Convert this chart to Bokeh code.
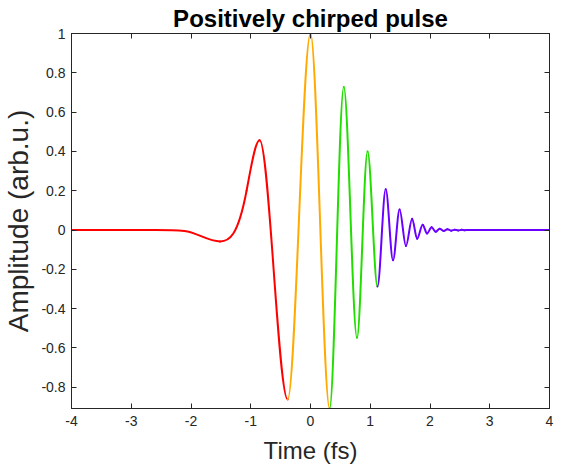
from bokeh.plotting import figure
from bokeh.models import Range1d, LinearAxis, FixedTicker, CustomLabelingPolicy
from bokeh.embed import file_html
from bokeh.resources import INLINE

# ---- data (extrema / anchor points of the pulse) ----
# each segment: time (fs), amplitude, local slope d(amp)/d(time)
red_t = [-4.0, -2.6, -2.11, -1.514, -1.07, -0.851, -0.382]
red_a = [0.0, 0.0, -0.005, -0.058, 0.20, 0.457, -0.862]
red_s = [0.0, 0.0, -0.03, 0.0, 1.6, 0.0, 0.0]

orange_t = [-0.382, 0.0, 0.32]
orange_a = [-0.862, 1.0, -0.908]
orange_s = [0.0, 0.0, 0.0]

green_t = [0.32, 0.557, 0.778, 0.955, 1.121]
green_a = [-0.908, 0.728, -0.548, 0.40, -0.287]
green_s = [0.0, 0.0, 0.0, 0.0, 0.0]

purple_t = [1.121, 1.259, 1.381, 1.491, 1.597, 1.701, 1.784, 1.878, 1.95, 2.027,
            2.094, 2.162, 2.228, 2.292, 2.354, 2.414, 2.472, 2.528, 2.583, 2.636,
            2.69, 4.0]
purple_a = [-0.287, 0.207, -0.154, 0.105, -0.081, 0.058, -0.044, 0.027, -0.018, 0.014,
            -0.009, 0.007, -0.005, 0.004, -0.003, 0.002, -0.002, 0.001, -0.001, 0.0005,
            0.0, 0.0]
purple_s = [0.0] * len(purple_t)

x_ticks = [-4, -3, -2, -1, 0, 1, 2, 3, 4]
x_labels = ["-4", "-3", "-2", "-1", "0", "1", "2", "3", "4"]
y_ticks = [-0.8, -0.6, -0.4, -0.2, 0, 0.2, 0.4, 0.6, 0.8, 1]
y_labels = ["-0.8", "-0.6", "-0.4", "-0.2", "0", "0.2", "0.4", "0.6", "0.8", "1"]

COL_RED = "#ff0000"
COL_ORANGE = "#ffaa00"
COL_GREEN = "#22dd00"
COL_PURPLE = "#6a00ff"
AX = "#262626"
FONT = "Liberation Sans"

p = figure(width=563, height=468, output_backend="svg", toolbar_location=None,
           x_range=Range1d(-4, 4), y_range=Range1d(-0.908, 1.0),
           min_border_left=66, min_border_right=14, min_border_top=33, min_border_bottom=60)
p.background_fill_color = "white"
p.border_fill_color = "white"
p.outline_line_color = AX
p.outline_line_width = 1
p.xgrid.visible = False
p.ygrid.visible = False

p.title.text = "Positively chirped pulse"
p.title.align = "center"
p.title.text_font = FONT
p.title.text_font_size = "24px"
p.title.text_font_style = "bold"
p.title.text_color = "black"
p.title.standoff = 3

NO_LABELS = CustomLabelingPolicy(code="""
const all = [...indices]
for (const i of all) indices.unset(i)
return indices
""")


def style_axis(ax, ticks, labels, size="14px"):
    ax.ticker = FixedTicker(ticks=ticks)
    ax.major_label_overrides = {t: l for t, l in zip(ticks, labels)}
    ax.major_tick_in = 5
    ax.major_tick_out = 0
    ax.minor_tick_in = 0
    ax.minor_tick_out = 0
    ax.axis_line_color = AX
    ax.major_tick_line_color = AX
    ax.major_label_text_color = AX
    ax.major_label_text_font = FONT
    ax.major_label_text_font_size = size
    ax.axis_label_text_font = FONT
    ax.axis_label_text_font_style = "normal"
    ax.axis_label_text_color = AX


xa = p.xaxis[0]
ya = p.yaxis[0]
style_axis(xa, x_ticks, x_labels)
style_axis(ya, y_ticks, y_labels)
xa.axis_label = "Time (fs)"
ya.axis_label = "Amplitude (arb.u.)"
xa.axis_label_text_font_size = "24px"
ya.axis_label_text_font_size = "28px"
xa.major_label_standoff = 7
ya.major_label_standoff = 6
xa.axis_label_standoff = 8
ya.axis_label_standoff = 4

top = LinearAxis(major_label_policy=NO_LABELS)
style_axis(top, x_ticks, x_labels, size="0px")
top.major_label_standoff = 0
p.add_layout(top, "above")
right = LinearAxis(major_label_policy=NO_LABELS)
style_axis(right, y_ticks, y_labels, size="0px")
right.major_label_standoff = 0
p.add_layout(right, "right")


def add_curve(ts, amps, slopes, color):
    n = len(ts) - 1
    x0 = ts[:-1]
    x1 = ts[1:]
    y0 = amps[:-1]
    y1 = amps[1:]
    dx = [x1[i] - x0[i] for i in range(n)]
    cx0 = [x0[i] + dx[i] / 3 for i in range(n)]
    cx1 = [x1[i] - dx[i] / 3 for i in range(n)]
    cy0 = [y0[i] + slopes[i] * dx[i] / 3 for i in range(n)]
    cy1 = [y1[i] - slopes[i + 1] * dx[i] / 3 for i in range(n)]
    p.bezier(x0=x0, y0=y0, x1=x1, y1=y1, cx0=cx0, cy0=cy0, cx1=cx1, cy1=cy1,
             line_color=color, line_width=2, line_cap="round")


add_curve(red_t, red_a, red_s, COL_RED)
add_curve(orange_t, orange_a, orange_s, COL_ORANGE)
add_curve(green_t, green_a, green_s, COL_GREEN)
add_curve(purple_t, purple_a, purple_s, COL_PURPLE)

open("out.html", "w").write(file_html(p, INLINE))
